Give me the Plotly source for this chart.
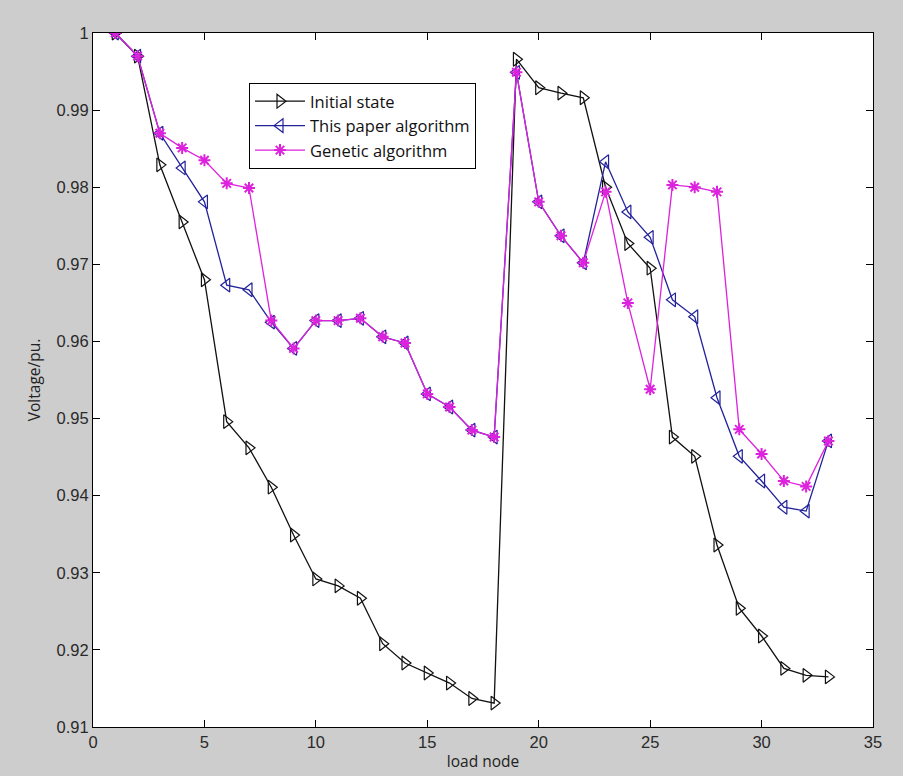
import plotly.graph_objects as go

nodes = list(range(1, 34))

initial_state = [1.000, 0.997, 0.9829, 0.9755, 0.968, 0.9496, 0.9462, 0.9411, 0.9349, 0.9292,
                 0.9283, 0.9267, 0.9208, 0.9183, 0.9170, 0.9157, 0.9137, 0.9131, 0.9966, 0.9929,
                 0.9922, 0.9916, 0.9800, 0.9727, 0.9695, 0.9476, 0.9451, 0.9336, 0.9254, 0.9218,
                 0.9176, 0.9167, 0.9165]

this_paper = [1.000, 0.997, 0.987, 0.9825, 0.9781, 0.9673, 0.9667, 0.9625, 0.9591, 0.9627,
              0.9627, 0.9630, 0.9606, 0.9598, 0.9532, 0.9515, 0.9485, 0.9476, 0.9949, 0.9781,
              0.9737, 0.9702, 0.9833, 0.9768, 0.9735, 0.9654, 0.9632, 0.9527, 0.9451, 0.9419,
              0.9385, 0.9380, 0.9471]

genetic = [1.000, 0.997, 0.987, 0.9851, 0.9835, 0.9805, 0.9799, 0.9627, 0.9591, 0.9627,
           0.9627, 0.9630, 0.9606, 0.9598, 0.9532, 0.9515, 0.9485, 0.9476, 0.9949, 0.9781,
           0.9737, 0.9702, 0.9794, 0.9650, 0.9538, 0.9803, 0.9800, 0.9794, 0.9486, 0.9454,
           0.9419, 0.9412, 0.9471]

x_ticks = [0, 5, 10, 15, 20, 25, 30, 35]
y_ticks = [0.91, 0.92, 0.93, 0.94, 0.95, 0.96, 0.97, 0.98, 0.99, 1.0]
y_tick_labels = ["0.91", "0.92", "0.93", "0.94", "0.95", "0.96", "0.97", "0.98", "0.99", "1"]

fig = go.Figure()
fig.add_trace(go.Scatter(x=nodes, y=initial_state, mode="lines+markers", name="Initial state",
                         line=dict(color="#111111", width=1.3),
                         marker=dict(symbol="triangle-right-open", size=12, color="#111111",
                                     line=dict(width=1.2))))
fig.add_trace(go.Scatter(x=nodes, y=this_paper, mode="lines+markers", name="This paper algorithm",
                         line=dict(color="#22229a", width=1.3),
                         marker=dict(symbol="triangle-left-open", size=12, color="#22229a",
                                     line=dict(width=1.2))))
fig.add_trace(go.Scatter(x=nodes, y=genetic, mode="lines+markers", name="Genetic algorithm",
                         line=dict(color="#dd22dd", width=1.3),
                         marker=dict(symbol="asterisk-open", size=10, color="#dd22dd",
                                     line=dict(width=2, color="#dd22dd"))))

title_font = dict(family="Open Sans", size=15.5, color="#222222")
axis_common = dict(showline=True, linecolor="black", linewidth=1.2, mirror="ticks",
                   ticks="inside", ticklen=7, tickcolor="black", showgrid=False, zeroline=False,
                   automargin=False,
                   tickfont=dict(family="Liberation Sans", size=16.5, color="#2a2a2a"))

fig.update_xaxes(range=[0, 35], tickvals=x_ticks,
                 title=dict(text="load node", standoff=6, font=title_font), **axis_common)
fig.update_yaxes(range=[0.91, 1.0], tickvals=y_ticks, ticktext=y_tick_labels,
                 title=dict(text="Voltage/pu.", standoff=12, font=title_font),
                 **axis_common)

fig.update_layout(
    width=903, height=776,
    margin=dict(l=93, r=30, t=33, b=49),
    paper_bgcolor="#cdcdcd", plot_bgcolor="white",
    showlegend=True,
    legend=dict(x=0.2, y=0.928, xanchor="left", yanchor="top",
                bgcolor="white", bordercolor="black", borderwidth=1,
                font=dict(family="Open Sans", size=16.5, color="#111111"),
                itemwidth=50, tracegroupgap=0),
)

fig.write_html("out.html")
